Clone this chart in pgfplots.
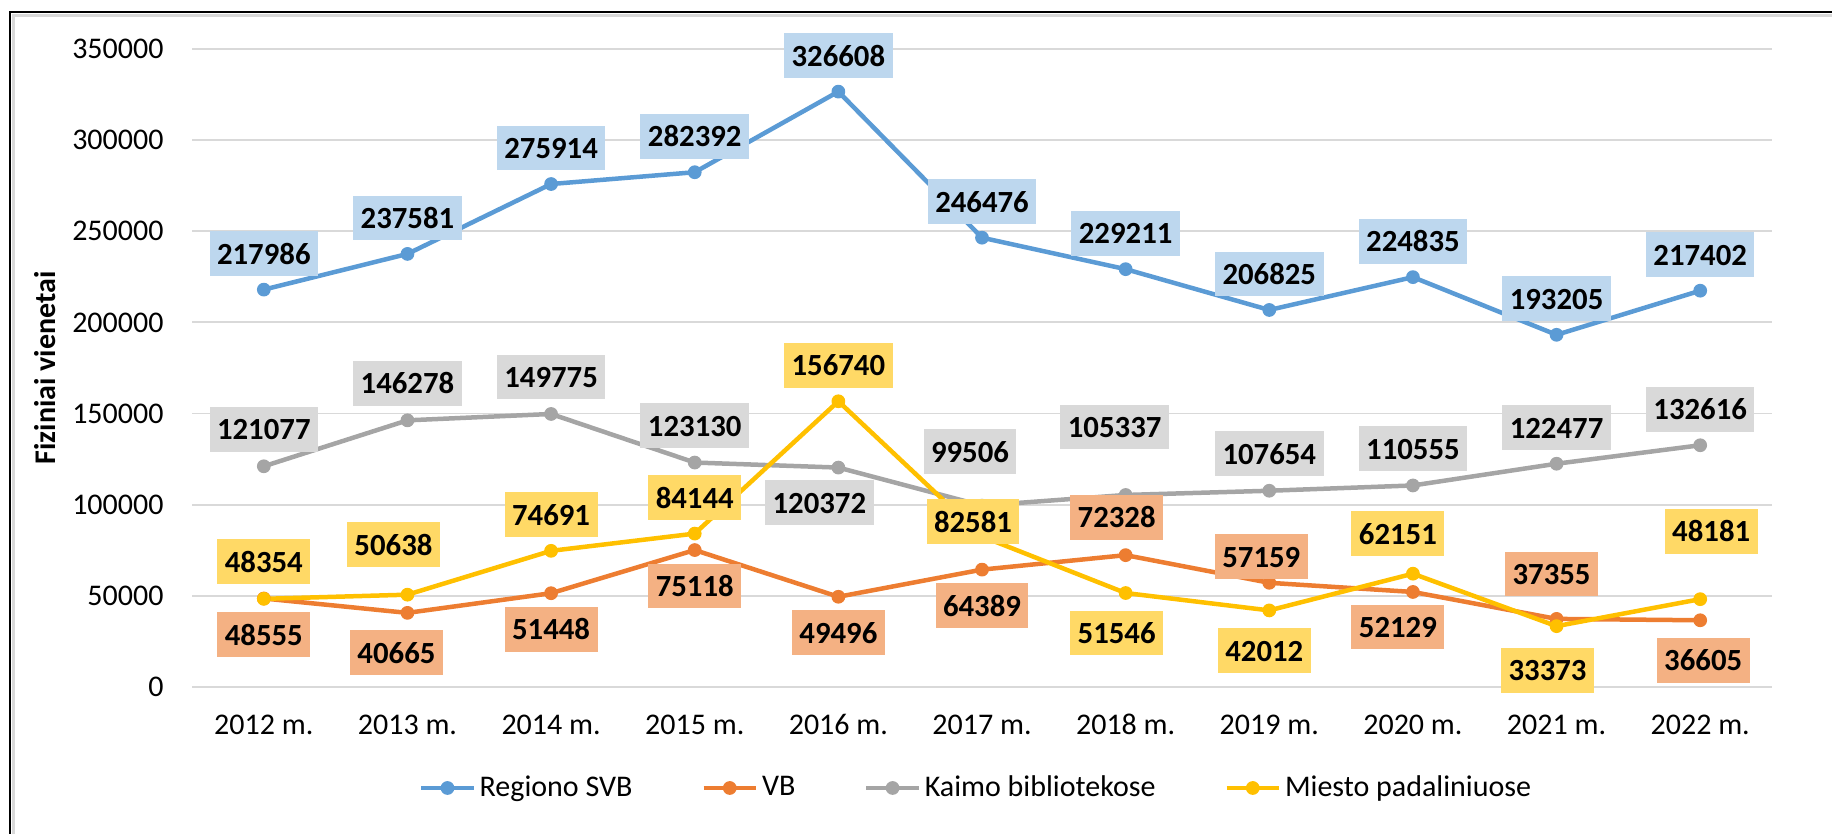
\documentclass[border=0pt]{standalone}
\usepackage{pgfplots}
\pgfplotsset{compat=1.18}
\usepackage{pgfplotstable}
\usepackage{fontspec}
\setmainfont{Carlito}

\definecolor{cblue}{HTML}{5B9BD5}
\definecolor{corange}{HTML}{ED7D31}
\definecolor{cgray}{HTML}{A5A5A5}
\definecolor{cyellow}{HTML}{FFC000}
\definecolor{lblue}{HTML}{BDD7EE}
\definecolor{lorange}{HTML}{F4B183}
\definecolor{lgray}{HTML}{D9D9D9}
\definecolor{lyellow}{HTML}{FFD966}
\definecolor{gridc}{HTML}{D9D9D9}

% x = category index, y = value, xo/yo = label offset (px)
\pgfplotstableread{
x y xo yo
0 217986 0 36
1 237581 0 36
2 275914 0 36
3 282392 0 36
4 326608 0 36
5 246476 0 36
6 229211 0 36
7 206825 0 36
8 224835 0 36
9 193205 0 36
10 217402 0 36
}\regiono

\pgfplotstableread{
x y xo yo
0 48555 0 -36
1 40665 -11 -40
2 51448 0 -36
3 75118 0 -36
4 49496 0 -36
5 64389 0 -36
6 72328 -9 38
7 57159 -8 26
8 52129 -15 -35
9 37355 -5 45
10 36605 3 -40
}\vb

\pgfplotstableread{
x y xo yo
0 121077 0 37
1 146278 0 37
2 149775 0 37
3 123130 0 37
4 120372 -19 -35
5 99506 -12 54
6 105337 -11 68
7 107654 0 37
8 110555 0 37
9 122477 0 36
10 132616 0 36
}\kaimo

\pgfplotstableread{
x y xo yo
0 48354 0 37
1 50638 -14 50
2 74691 0 36
3 84144 0 36
4 156740 0 36
5 82581 -9 15
6 51546 -9 -40
7 42012 -5 -40
8 62151 -15 40
9 33373 -9 -44
10 48181 11 68
}\miesto

\pgfplotsset{
  serie/.style={color=#1, line width=1.8pt, line join=round, mark=*, mark size=2.5pt, mark options={solid, line width=0.5pt, fill=#1}},
  labelplot/.style={draw=none, no markers, forget plot,
    point meta=explicit symbolic,
    visualization depends on={\thisrow{xo} \as \xo},
    visualization depends on={\thisrow{yo} \as \yo},
    nodes near coords={\pgfplotspointmeta},
    nodes near coords style={anchor=center, xshift=\xo*0.4pt, yshift=\yo*0.4pt,
      fill=#1, draw=none, text=black, font=\bfseries\fontsize{12.3}{14}\selectfont,
      inner xsep=3pt, inner ysep=0pt, text height=13.2pt, text depth=4.7pt}},
}

\begin{document}
\begin{tikzpicture}
\path[use as bounding box] (0,0) rectangle (732.8pt,333.6pt);
\draw[black!15, line width=1.2pt] (5.4pt,0) -- (5.4pt,327.4pt) -- (732.8pt,327.4pt);
\draw[black, line width=0.8pt] (4pt,0) -- (4pt,328.8pt) -- (732.8pt,328.8pt);
\begin{axis}[
  at={(76.8pt,58.8pt)}, anchor=south west,
  scale only axis, width=632pt, height=255.2pt,
  xmin=-0.5, xmax=10.5, ymin=0, ymax=350000,
  xtick={0,...,10},
  xticklabels={2012 m.,2013 m.,2014 m.,2015 m.,2016 m.,2017 m.,2018 m.,2019 m.,2020 m.,2021 m.,2022 m.},
  ytick={0,50000,100000,150000,200000,250000,300000,350000},
  scaled y ticks=false,
  yticklabel={\pgfmathprintnumber[fixed,precision=0,1000 sep={}]{\tick}},
  /pgf/number format/assume math mode=true,
  ymajorgrids, grid style={line width=0.75pt, color=gridc},
  axis line style={draw=none},
  major tick length=0pt,
  tick label style={font=\fontsize{12}{14}\selectfont, text=black},
  xticklabel style={anchor=base, yshift=-19.2pt},
  yticklabel style={anchor=east, inner sep=0pt, xshift=-11.2pt},
  ylabel={Fiziniai vienetai},
  ylabel style={at={(axis description cs:-0.093,0.5)}, anchor=center, font=\bfseries\fontsize{12}{14}\selectfont},
  clip=false,
  legend columns=4,
  legend style={at={(axis description cs:0.4968,-0.1583)}, anchor=center, draw=none, fill=none,
    font=\fontsize{12}{14}\selectfont,
    /tikz/every even column/.append style={column sep=26pt},
    nodes={inner sep=1.5pt}},
  legend image code/.code={\draw[mark repeat=2, mark phase=2, #1] plot coordinates {(0pt,0pt) (10.5pt,0pt) (21pt,0pt)};},
]
\addplot[serie=cblue] table[x=x,y=y] {\regiono};
\addlegendentry{Regiono SVB}
\addplot[serie=corange] table[x=x,y=y] {\vb};
\addlegendentry{VB}
\addplot[serie=cgray] table[x=x,y=y] {\kaimo};
\addlegendentry{Kaimo bibliotekose}
\addplot[serie=cyellow] table[x=x,y=y] {\miesto};
\addlegendentry{Miesto padaliniuose}

\addplot[labelplot=lblue] table[x=x,y=y,meta=y] {\regiono};
\addplot[labelplot=lorange] table[x=x,y=y,meta=y] {\vb};
\addplot[labelplot=lgray] table[x=x,y=y,meta=y] {\kaimo};
\addplot[labelplot=lyellow] table[x=x,y=y,meta=y] {\miesto};
\end{axis}
\end{tikzpicture}
\end{document}
